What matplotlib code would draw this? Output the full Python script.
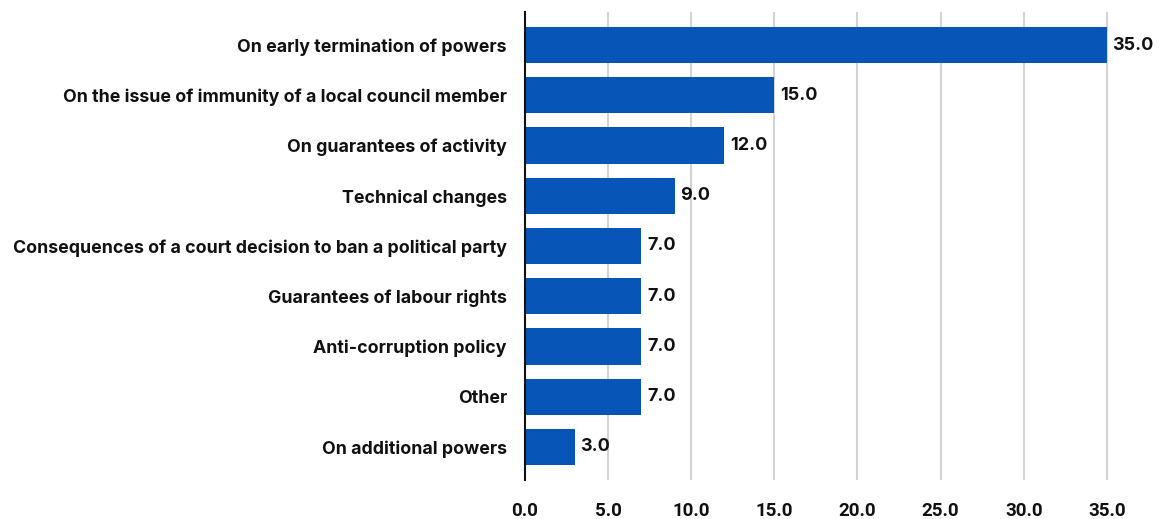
import matplotlib
matplotlib.use("Agg")
import matplotlib.pyplot as plt
from matplotlib import font_manager

categories = [
    "On early termination of powers",
    "On the issue of immunity of a local council member",
    "On guarantees of activity",
    "Technical changes",
    "Consequences of a court decision to ban a political party",
    "Guarantees of labour rights",
    "Anti-corruption policy",
    "Other",
    "On additional powers",
]
values = [35.0, 15.0, 12.0, 9.0, 7.0, 7.0, 7.0, 7.0, 3.0]
tick_values = [0, 5, 10, 15, 20, 25, 30, 35]
tick_labels = ["0.0", "5.0", "10.0", "15.0", "20.0", "25.0", "30.0", "35.0"]

names = {f.name for f in font_manager.fontManager.ttflist}
label_font = "Inter" if "Inter" in names else "DejaVu Sans"
tick_font = "Liberation Sans Narrow" if "Liberation Sans Narrow" in names else "Roboto"

W, H = 1171, 519
fig = plt.figure(figsize=(W / 100, H / 100), dpi=100)
ax = fig.add_axes([525 / W, 1 - 480 / H, 640 / W, 468 / H])

y = list(range(len(categories)))
ax.barh(y, values, height=0.72, color="#0755B7", zorder=3)

for yi, v in zip(y, values):
    ax.annotate(f"{v:.1f}", (v, yi), xytext=(4, 0), textcoords="offset points",
                va="center", ha="left", fontsize=13, fontweight="bold",
                family=label_font, color="#111111", zorder=4)

ax.set_xlim(0, 38.5)
ax.set_ylim(len(categories) - 1 + 0.66, -0.66)
ax.set_yticks(y)
ax.set_yticklabels(categories, fontsize=12.8, fontweight="bold",
                   family=label_font, color="#111111")
ax.set_xticks(tick_values)
ax.set_xticklabels(tick_labels, fontsize=13.5, fontweight="bold",
                   family=tick_font, color="#111111")
ax.tick_params(axis="both", length=0)
ax.tick_params(axis="y", pad=13)
ax.tick_params(axis="x", pad=16)

for t in tick_values[1:]:
    ax.axvline(t, color="#D3D3D3", linewidth=1.5, zorder=1)

for s in ["top", "right", "bottom"]:
    ax.spines[s].set_visible(False)
ax.spines["left"].set_color("#111111")
ax.spines["left"].set_linewidth(1.5)
ax.spines["left"].set_zorder(5)

fig.savefig("out.png", dpi=100)
